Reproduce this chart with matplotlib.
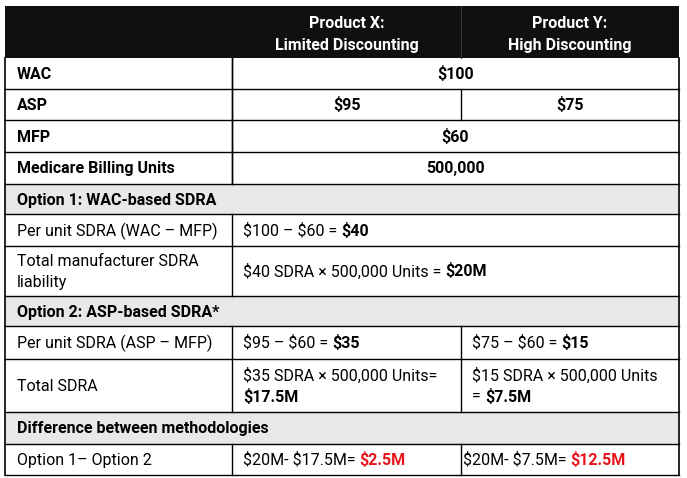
import matplotlib
matplotlib.use("Agg")
from matplotlib import pyplot as plt
from matplotlib.patches import Rectangle

plt.rcParams['font.family'] = ['Roboto', 'DejaVu Sans']
plt.rcParams['text.parse_math'] = False

# column edges and row edges (pixels)
col_x = [5, 232, 461, 679]
row_y = [6, 58, 89, 120, 152, 184, 214, 246, 296, 326, 359, 412, 444, 475]

header = ["Product X:\nLimited Discounting", "Product Y:\nHigh Discounting"]

# row kinds: 'bold' = bold label with centred values, 'section' = grey band,
# 'plain' = normal label with left aligned runs
labels = ["WAC", "ASP", "MFP", "Medicare Billing Units",
          "Option 1: WAC-based SDRA",
          "Per unit SDRA (WAC \u2013 MFP)",
          "Total manufacturer SDRA\nliability",
          "Option 2: ASP-based SDRA*",
          "Per unit SDRA (ASP \u2013 MFP)",
          "Total SDRA",
          "Difference between methodologies",
          "Option 1\u2013 Option 2"]
kinds = ["bold", "bold", "bold", "bold", "section", "plain", "plain",
         "section", "plain", "plain", "section", "plain"]

RED = "#e8141b"
# cell contents: None = no cell, 'span' = one cell across both product columns
cells = [
    ("span", [[("$100", True, "k")]]),
    ("split", [[("$95", True, "k")]], [[("$75", True, "k")]]),
    ("span", [[("$60", True, "k")]]),
    ("span", [[("500,000", True, "k")]]),
    None,
    ("span", [[("$100 \u2013 $60 = ", False, "k"), ("$40", True, "k")]]),
    ("span", [[("$40 SDRA \u00d7 500,000 Units = ", False, "k"), ("$20M", True, "k")]]),
    None,
    ("split", [[("$95 \u2013 $60 = ", False, "k"), ("$35", True, "k")]],
              [[("$75 \u2013 $60 = ", False, "k"), ("$15", True, "k")]]),
    ("split", [[("$35 SDRA \u00d7 500,000 Units=", False, "k")], [("$17.5M", True, "k")]],
              [[("$15 SDRA \u00d7 500,000 Units", False, "k")], [("= ", False, "k"), ("$7.5M", True, "k")]]),
    None,
    ("split", [[("$20M- $17.5M= ", False, "k"), ("$2.5M", True, RED)]],
              [[("$20M- $7.5M= ", False, "k"), ("$12.5M", True, RED)]]),
]

FS = 11.5
W, H = 687, 478
fig = plt.figure(figsize=(W / 100, H / 100), dpi=100)
ax = fig.add_axes([0, 0, 1, 1])
ax.set_xlim(0, W)
ax.set_ylim(H, 0)
ax.axis('off')
fig.canvas.draw()
renderer = fig.canvas.get_renderer()


def run_line(x, y, runs, align="left"):
    # draw a line made of bold / normal pieces one after another
    widths = []
    for txt, bold, color in runs:
        t = ax.text(0, 0, txt, fontsize=FS, fontweight='bold' if bold else 'normal')
        bb = t.get_window_extent(renderer)
        widths.append(bb.width)
        t.remove()
    total = sum(widths)
    if align == "center":
        x = x - total / 2
    for (txt, bold, color), w in zip(runs, widths):
        ax.text(x, y, txt, fontsize=FS, fontweight='bold' if bold else 'normal',
                color=color, va='center', ha='left')
        x += w


def cell_text(x0, x1, y0, y1, lines, align, pad=11):
    n = len(lines)
    lh = 21
    yc = (y0 + y1) / 2 + 0.5
    for i, runs in enumerate(lines):
        y = yc + (i - (n - 1) / 2) * lh
        if align == "center":
            run_line((x0 + x1) / 2, y, runs, "center")
        else:
            run_line(x0 + pad, y, runs)


# header
ax.add_patch(Rectangle((col_x[0], row_y[0]), col_x[-1] - col_x[0], row_y[1] - row_y[0],
                       facecolor="#101010", edgecolor="none"))
for j, h in enumerate(header):
    ax.text((col_x[j + 1] + col_x[j + 2]) / 2, (row_y[0] + row_y[1]) / 2 + 2.5, h,
            color="white", fontsize=FS, fontweight='bold', ha='center', va='center',
            linespacing=1.6)
ax.plot([col_x[2], col_x[2]], [row_y[0], row_y[1]], color="#333333", lw=0.8)

for i, lab in enumerate(labels):
    y0, y1 = row_y[i + 1], row_y[i + 2]
    kind = kinds[i]
    if kind == "section":
        ax.add_patch(Rectangle((col_x[0], y0), col_x[-1] - col_x[0], y1 - y0,
                               facecolor="#e8e8e8", edgecolor="none"))
    ax.text(col_x[0] + 12, (y0 + y1) / 2 + 1, lab, fontsize=FS,
            fontweight='normal' if kind == "plain" else 'bold',
            va='center', ha='left', linespacing=1.5)
    # horizontal line under the row
    ax.plot([col_x[0], col_x[-1]], [y1, y1], color="k", lw=1)
    c = cells[i]
    if c is None:
        continue
    align = "center" if kind == "bold" else "left"
    ax.plot([col_x[1], col_x[1]], [y0, y1], color="k", lw=1)
    if c[0] == "span":
        cell_text(col_x[1], col_x[3], y0, y1, c[1], align)
    else:
        ax.plot([col_x[2], col_x[2]], [y0, y1], color="k", lw=1)
        cell_text(col_x[1], col_x[2], y0, y1, c[1], align)
        # the last right cell in the source has almost no left padding
        cell_text(col_x[2], col_x[3], y0, y1, c[2], align,
                  pad=2 if i == len(labels) - 1 else 11)

# outer border
ax.plot([col_x[0], col_x[0]], [row_y[1], row_y[-1]], color="k", lw=1.2)
ax.plot([col_x[-1], col_x[-1]], [row_y[1], row_y[-1]], color="k", lw=1.2)
ax.plot([col_x[1], col_x[1]], [row_y[1], row_y[5]], color="k", lw=1)

fig.savefig("out.png", dpi=100)
